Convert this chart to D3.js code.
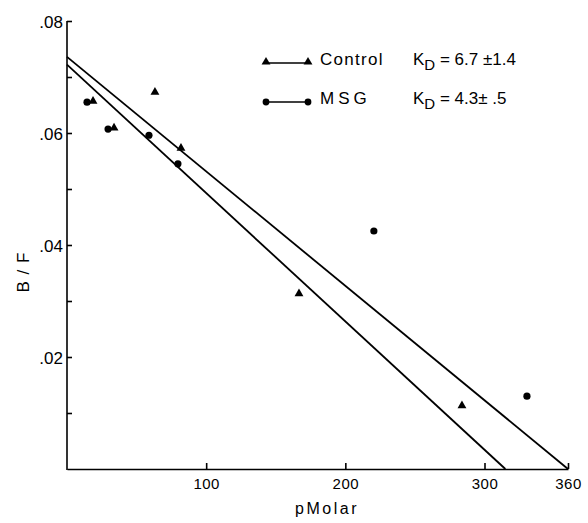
<!DOCTYPE html>
<html>
<head>
<meta charset="utf-8">
<script src="https://cdn.jsdelivr.net/npm/d3@7"></script>
<style>
  body { margin: 0; background: #fff; }
  text { font-family: "Liberation Sans", Arial, sans-serif; fill: #000; }
</style>
</head>
<body>
<div id="chart"></div>
<script>
// data (pMolar, B/F)
var controlX = [18.7, 33.8, 63.2, 81.9, 166.7, 283.8];
var controlY = [0.0657, 0.0609, 0.0673, 0.0573, 0.0313, 0.0113];
var msgX = [14.4, 29.5, 58.9, 79.7, 220.5, 330.5];
var msgY = [0.0655, 0.0607, 0.0596, 0.0545, 0.0425, 0.0130];

// fitted lines: [intercept on B/F axis, intercept on pMolar axis]
var controlFit = [0.0736, 360];
var msgFit = [0.0722, 315];

var seriesNames = ["Control", "MSG"];
var kdText = ["6.7 \u00b11.4", "4.3\u00b1 .5"];

var xTicks = [100, 200, 300, 360];
var yTicks = [0.01, 0.02, 0.03, 0.04, 0.05, 0.06, 0.07, 0.08];

var width = 588, height = 523;

var svg = d3.select("#chart").append("svg")
    .attr("width", width)
    .attr("height", height);

//scales, pixel extents
var x = d3.scaleLinear().domain([0, 360]).range([67, 568]);
var y = d3.scaleLinear().domain([0, 0.08]).range([469, 21]);

//y axis, ticks point inward, labels only on even hundredths
var yAxis = d3.axisLeft(y)
    .tickValues(yTicks)
    .tickSizeInner(-5)
    .tickSizeOuter(0)
    .tickPadding(4)
    .tickFormat(function (d) {
        var k = Math.round(d * 100);
        return k % 2 === 0 ? d3.format(".2f")(d).replace(/^0/, "") : "";
    });

var gy = svg.append("g")
    .attr("transform", "translate(" + x(0) + ",0)")
    .call(yAxis);
gy.select(".domain").attr("d", "M0," + (y(0) + 1) + "V" + y(0.08));

//x axis
var xAxis = d3.axisBottom(x)
    .tickValues(xTicks)
    .tickSizeInner(-6)
    .tickSizeOuter(0)
    .tickPadding(9);

var gx = svg.append("g")
    .attr("transform", "translate(0," + y(0) + ")")
    .call(xAxis);

svg.selectAll(".domain, .tick line")
    .attr("stroke", "#000")
    .attr("stroke-width", 1.6);

gy.selectAll("text")
    .style("font-size", "17px")
    .attr("dy", "0.36em");
gx.selectAll("text")
    .style("font-size", "15px")
    .style("letter-spacing", "0.5px");

//axis titles
svg.append("text")
    .attr("x", 327)
    .attr("y", 514)
    .attr("text-anchor", "middle")
    .style("font-size", "16px")
    .style("letter-spacing", "2.5px")
    .text("pMolar");

svg.append("text")
    .attr("transform", "translate(29,272) rotate(-90)")
    .attr("text-anchor", "middle")
    .style("font-size", "17px")
    .style("letter-spacing", "1px")
    .text("B / F");

//fitted lines
[controlFit, msgFit].forEach(function (f) {
    svg.append("line")
        .attr("x1", x(0))
        .attr("y1", y(f[0]))
        .attr("x2", x(f[1]))
        .attr("y2", y(0))
        .attr("stroke", "#000")
        .attr("stroke-width", 1.8);
});

var tri = d3.symbol().type(d3.symbolTriangle).size(34);

//control points (triangles)
svg.selectAll("path.ctrl")
    .data(d3.zip(controlX, controlY))
    .enter()
    .append("path")
    .attr("class", "ctrl")
    .attr("d", tri)
    .attr("transform", function (d) { return "translate(" + x(d[0]) + "," + y(d[1]) + ")"; })
    .attr("fill", "#000");

//MSG points (circles)
svg.selectAll("circle.msg")
    .data(d3.zip(msgX, msgY))
    .enter()
    .append("circle")
    .attr("class", "msg")
    .attr("cx", function (d) { return x(d[0]); })
    .attr("cy", function (d) { return y(d[1]); })
    .attr("r", 3.6)
    .attr("fill", "#000");

//legend
var legend = svg.append("g");
seriesNames.forEach(function (name, i) {
    var ly = 63 + i * 39;
    legend.append("line")
        .attr("x1", 266).attr("x2", 308)
        .attr("y1", ly).attr("y2", ly)
        .attr("stroke", "#000")
        .attr("stroke-width", 1.6);
    [266, 308].forEach(function (lx) {
        if (i === 0) {
            legend.append("path")
                .attr("d", tri)
                .attr("transform", "translate(" + lx + "," + (ly - 1) + ")");
        } else {
            legend.append("circle")
                .attr("cx", lx).attr("cy", ly).attr("r", 3.4);
        }
    });
    legend.append("text")
        .attr("x", 320)
        .attr("y", ly + 2)
        .style("font-size", "17px")
        .style("letter-spacing", i === 0 ? "1.3px" : "4px")
        .text(name);
    var kd = legend.append("text")
        .attr("x", 413)
        .attr("y", ly + 2)
        .style("font-size", "17px");
    kd.append("tspan").text("K");
    kd.append("tspan").attr("dy", 5).style("font-size", "15px").text("D");
    kd.append("tspan").attr("dy", -5).text(" = " + kdText[i]);
});
</script>
</body>
</html>
